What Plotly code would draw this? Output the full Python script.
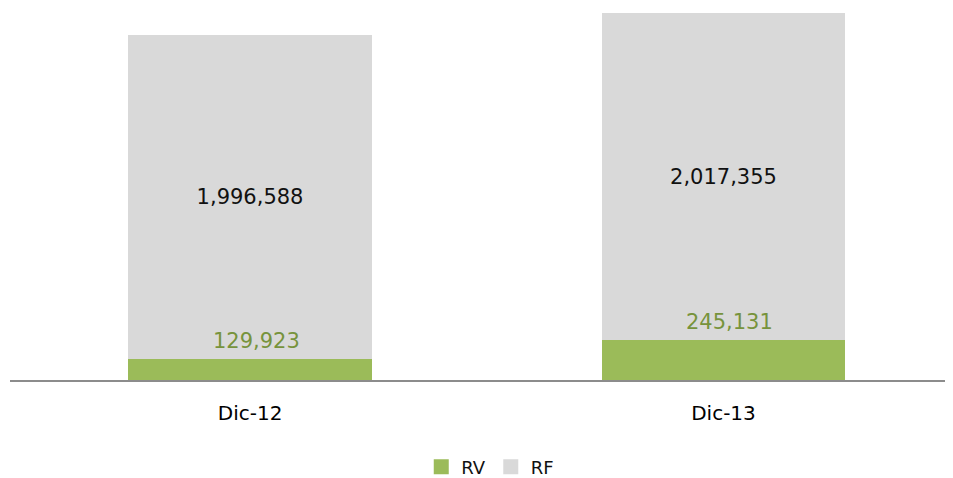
import plotly.graph_objects as go

categories = ["Dic-12", "Dic-13"]
rv_values = [129923, 245131]
rf_values = [1996588, 2017355]
series_names = ["RV", "RF"]

GREEN = "#9BBB59"
GRAY = "#D9D9D9"
FONT = "DejaVu Sans"

fig = go.Figure()
fig.add_trace(go.Bar(x=categories, y=rv_values, name=series_names[0],
                     marker=dict(color=GREEN, line=dict(width=0)),
                     width=0.515, hoverinfo="skip", showlegend=False))
fig.add_trace(go.Bar(x=categories, y=rf_values, name=series_names[1],
                     marker=dict(color=GRAY, line=dict(width=0)),
                     width=0.515,
                     text=[f"{v:,}" for v in rf_values],
                     textposition="inside", insidetextanchor="middle",
                     textfont=dict(family=FONT, size=21, color="#111111"),
                     hoverinfo="skip", showlegend=False))

# legend entries with larger square swatches
for name, col in zip(series_names, [GREEN, GRAY]):
    fig.add_trace(go.Scatter(x=[None], y=[None], mode="markers", name=name,
                             marker=dict(symbol="square", size=15, color=col),
                             showlegend=True))

for c, v in zip(categories, rv_values):
    fig.add_annotation(x=c, y=v, text=f"{v:,}", showarrow=False,
                       yanchor="bottom", yshift=4, xshift=6,
                       font=dict(family=FONT, size=21, color="#77933C"))

fig.update_layout(
    barmode="stack",
    width=953, height=478,
    margin=dict(l=2, r=0, t=0, b=106),
    paper_bgcolor="white", plot_bgcolor="white",
    showlegend=True,
    legend=dict(orientation="h", x=0.505, xanchor="center", y=-0.234, yanchor="middle",
                font=dict(family=FONT, size=18, color="#111111"),
                itemwidth=30, traceorder="normal"),
)
fig.update_xaxes(range=[-0.507, 1.5016], showline=True, linecolor="#8C8C8C", linewidth=2,
                 ticks="", showgrid=False, ticklabelstandoff=14,
                 tickfont=dict(family=FONT, size=20, color="#000000"))
fig.update_yaxes(range=[0, 2293500], visible=False, showgrid=False, zeroline=False)

fig.write_html("out.html")
